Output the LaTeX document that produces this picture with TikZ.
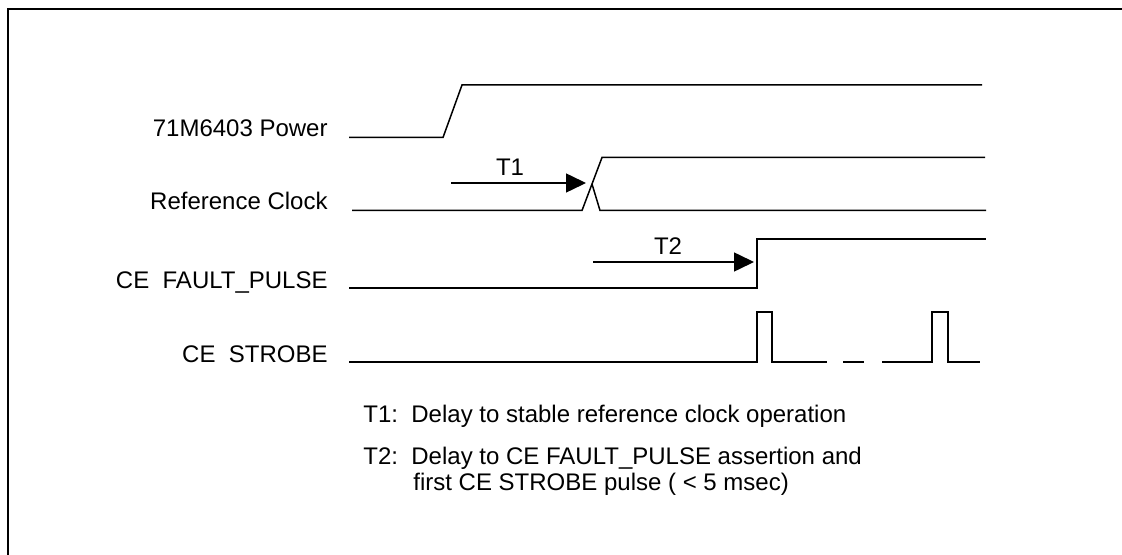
\documentclass[tikz,border=0pt]{standalone}
\usepackage{fontspec}
\setmainfont{Liberation Sans}
\usetikzlibrary{arrows.meta}
\begin{document}
\begin{tikzpicture}[x=0.5pt,y=-0.5pt,
  wave/.style={line width=0.75pt, line join=miter},
  lbl/.style={anchor=base east, inner sep=0pt, font=\fontsize{12}{14}\selectfont},
  note/.style={anchor=base west, inner sep=0pt, font=\fontsize{12}{14}\selectfont},
  tlbl/.style={anchor=base, inner sep=0pt, font=\fontsize{12}{14}\selectfont},
  delay/.style={line width=0.75pt, -{Triangle[length=10pt,width=9.5pt]}},
  frame/.style={line width=1pt}]
\useasboundingbox (0,0) rectangle (1122,555);
% frame
\draw[frame] (7.5,600) -- (7.5,9) -- (1140,9);
% labels
\node[lbl] (lpow) at (328,137) {71M6403 Power};
\node[lbl] (lclk) at (328,210) {Reference Clock};
\node[lbl] (lflt) at (328,288) {CE\ \ FAULT\_PULSE};
\node[lbl] (lstb) at (328,362) {CE\ \ STROBE};
% power
\draw[wave] (349,137.5) -- (443,137.5) -- (462,85) -- (982,85);
% reference clock
\coordinate (cx) at (592,184);
\draw[wave] (352,210.5) -- (582,210.5) -- (602,157.5) -- (985,157.5);
\draw[wave] (cx) -- (600,210.5) -- (986,210.5);
% fault pulse
\coordinate (fe) at (757,262);
\draw[wave] (349,288) -- (757,288) -- (757,239) -- (986,239);
% strobe
\draw[wave] (349,362) -- (757,362) -- (757,312) -- (772,312) -- (772,362) -- (827,362);
\draw[wave] (843,362) -- (864,362);
\draw[wave] (882,362) -- (932,362) -- (932,312) -- (948,312) -- (948,362) -- (980,362);
% delay arrows
\coordinate (t1s) at (451,183);
\coordinate (t1e) at (586,183);
\coordinate (t2s) at (593,262);
\coordinate (t2e) at (754,262);
\draw[delay] (t1s) -- (t1e);
\draw[delay] (t2s) -- (t2e);
\node[tlbl] (t1) at (510,176) {T1};
\node[tlbl] (t2) at (668,255) {T2};
% notes
\node[note] (n1) at (363,422) {T1:\ \ Delay to stable reference clock operation};
\node[note] (n2) at (363,464) {T2:\ \ Delay to CE FAULT\_PULSE assertion and};
\node[note] (n3) at (413,490) {first CE STROBE pulse ( < 5 msec)};
\end{tikzpicture}
\end{document}
